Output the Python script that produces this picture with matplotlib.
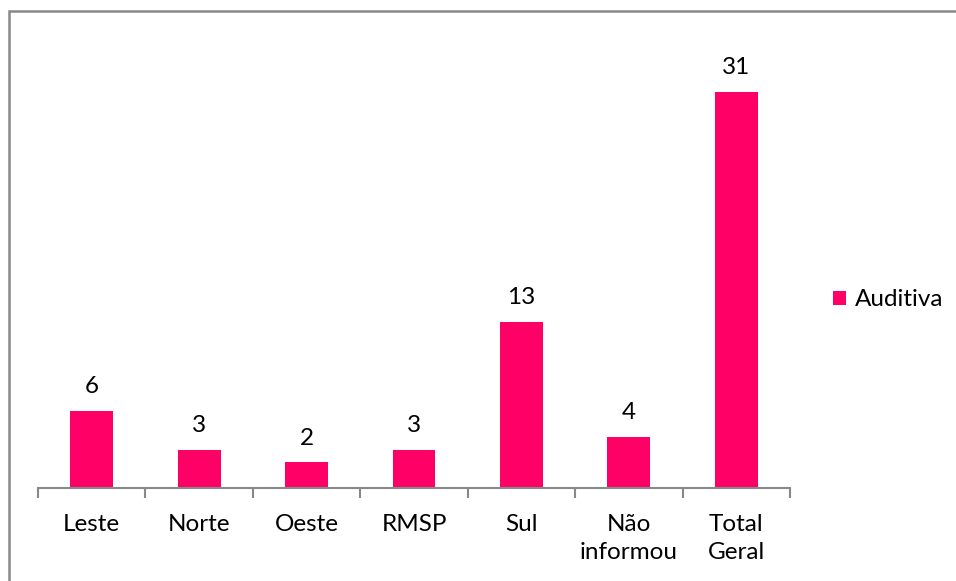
import numpy as np
from matplotlib import pyplot as plt
from matplotlib.patches import Rectangle

categories = ["Leste", "Norte", "Oeste", "RMSP", "Sul", "Não\ninformou", "Total\nGeral"]
auditiva = [6, 3, 2, 3, 13, 4, 31]

bar_color = "#FF0066"
axis_gray = "#888888"
fs = 17.5

plt.rcParams['font.family'] = ['Lato', 'DejaVu Sans']

fig = plt.figure(figsize=(9.56, 5.81), dpi=100)
ax = fig.add_axes([38 / 956, 1 - 488 / 581, (790 - 38) / 956, (488 - 41) / 581])

x = np.arange(len(categories))
ax.bar(x, auditiva, width=0.4, color=bar_color, label="Auditiva")

for xi, v in zip(x, auditiva):
    ax.annotate(str(v), (xi, v), xytext=(0, 10), textcoords="offset points",
                ha="center", va="bottom", fontsize=fs, color="black")

ax.set_xlim(-0.5, len(categories) - 0.5)
ax.set_ylim(0, 35)

# category labels at centres, tick marks at the boundaries
ax.set_xticks(x)
ax.set_xticklabels(categories, fontsize=fs, linespacing=1.4)
ax.tick_params(axis="x", which="major", length=0, pad=19)
ax.set_xticks(np.arange(len(categories) + 1) - 0.5, minor=True)
ax.tick_params(axis="x", which="minor", length=7, width=1.5, color=axis_gray)
ax.set_yticks([])

for s in ["top", "right", "left"]:
    ax.spines[s].set_visible(False)
ax.spines["bottom"].set_color(axis_gray)
ax.spines["bottom"].set_linewidth(1.5)

# legend
fig.legend(loc="center left", bbox_to_anchor=(833 / 956, 1 - 300 / 581),
           frameon=False, fontsize=fs, handlelength=0.55, handleheight=0.55,
           handletextpad=0.35, borderpad=0, borderaxespad=0)

# chart area border
fig.patches.append(Rectangle((9 / 956, -0.1), 1.2, 1 - 11 / 581 + 0.1,
                             transform=fig.transFigure, fill=False,
                             edgecolor=axis_gray, linewidth=1.8))

fig.savefig("out.png", dpi=100)
